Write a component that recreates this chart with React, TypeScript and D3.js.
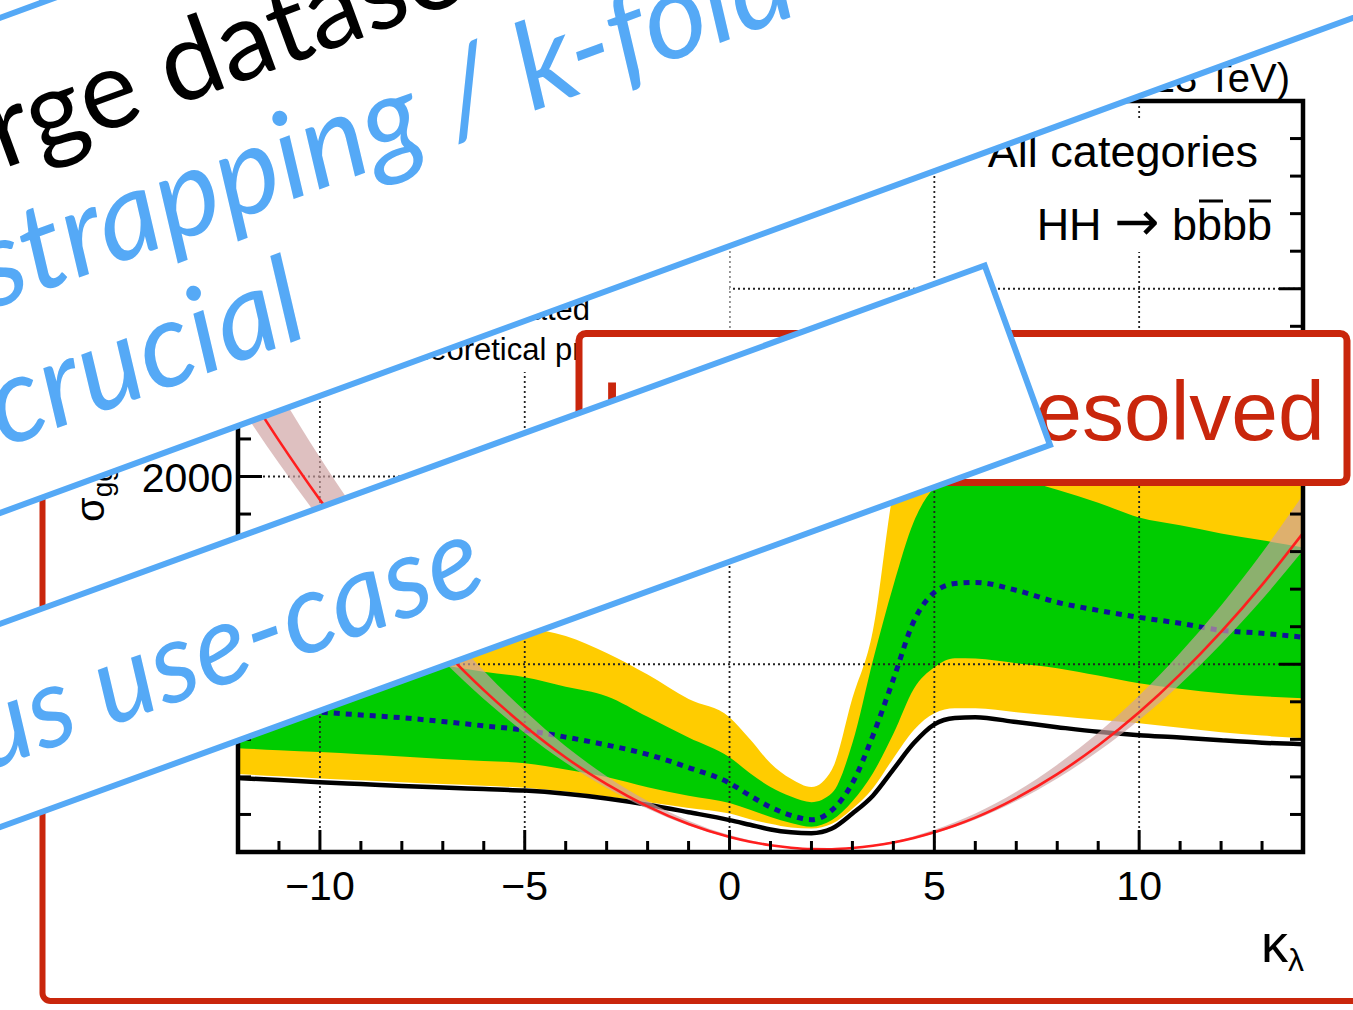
import React from 'react';
import * as d3 from 'd3';

// kappa_lambda sampling points
const kappa = [-12, -11, -10, -9, -8, -7, -6, -5, -4, -3, -2, -1, 0, 0.5, 1, 1.5, 2, 2.5, 3, 3.5, 4, 4.5, 5, 5.5, 6, 7, 8, 9, 10, 11, 12, 13, 14];
// observed 95% CL limit [fb]
const observed = [394, 383, 372, 362, 352, 343, 335, 327, 310, 285, 252, 212, 170, 145, 120, 105, 100, 125, 205, 300, 440, 580, 680, 714, 718, 692, 665, 640, 622, 610, 595, 582, 574];
// expected limit [fb]
const expected = [775, 760, 745, 730, 715, 695, 672, 649, 612, 570, 520, 450, 367, 300, 239, 195, 172, 223, 367, 620, 920, 1230, 1383, 1430, 1436, 1394, 1330, 1287, 1250, 1218, 1181, 1165, 1144];
// +-1 sigma band
const sigma1Low = [553, 542, 532, 520, 508, 495, 485, 473, 440, 400, 345, 300, 261, 225, 186, 155, 135, 170, 270, 420, 630, 870, 984, 1032, 1030, 1005, 979, 940, 899, 870, 846, 830, 819];
const sigma1High = [1250, 1180, 1120, 1070, 1030, 995, 960, 931, 880, 830, 720, 610, 505, 420, 346, 295, 265, 314, 580, 1020, 1420, 1760, 1941, 2000, 2010, 1990, 1930, 1860, 1782, 1740, 1697, 1660, 1622];
// +-2 sigma band
const sigma2Low = [415, 403, 392, 382, 372, 362, 353, 342, 322, 295, 265, 235, 205, 175, 150, 130, 125, 150, 230, 340, 500, 650, 739, 766, 765, 745, 725, 705, 686, 662, 638, 620, 606];
const sigma2High = [1600, 1500, 1420, 1360, 1310, 1260, 1225, 1197, 1150, 1060, 945, 815, 718, 600, 473, 390, 346, 440, 820, 1180, 1925, 2300, 2500, 2560, 2580, 2560, 2500, 2450, 2400, 2350, 2300, 2250, 2200];
// theoretical prediction and its uncertainty band
const theory = [2530, 2191, 1876, 1586, 1320, 1079, 862, 671, 503, 361, 243, 149, 80, 55, 36, 23, 16, 15, 21, 33, 51, 75, 105, 141, 183, 287, 415, 567, 744, 946, 1172, 1423, 1699];
const theoryUp = [2834, 2454, 2101, 1776, 1478, 1208, 965, 752, 563, 404, 272, 167, 90, 62, 40, 26, 18, 17, 24, 37, 57, 84, 118, 158, 205, 321, 465, 635, 833, 1060, 1313, 1594, 1903];
const theoryDown = [2391, 2070, 1773, 1499, 1247, 1020, 815, 634, 475, 341, 230, 141, 76, 52, 34, 22, 15, 14, 20, 31, 48, 71, 99, 133, 173, 271, 392, 536, 703, 894, 1108, 1345, 1606];

const xMajor = [-10, -5, 0, 5, 10];
const xTickLabels = ['\u221210', '\u22125', '0', '5', '10'];
const yMajor = [1000, 2000, 3000];
const yTickLabels = ['1000', '2000', '3000'];
const legendLabels = ['Observed', 'Expected', 'Expected \u00b1 1\u03c3', 'Expected \u00b1 2\u03c3'];

const BLUE = '#55A9F6';
const SLIDE_RED = '#C9260C';
const ROOT_FONT = "'Liberation Sans', Arial, Helvetica, sans-serif";
const SLIDE_FONT = "Lato, 'Open Sans', sans-serif";

export default function App() {
  const x = d3.scaleLinear().domain([-12, 14]).range([238, 1303]);
  const y = d3.scaleLinear().domain([0, 4000]).range([852, 101]);
  const idx = d3.range(kappa.length);
  const area = (lo: number[], hi: number[]) =>
    d3.area<number>().x(i => x(kappa[i])).y0(i => y(lo[i])).y1(i => y(hi[i])).curve(d3.curveMonotoneX)(idx) || '';
  const line = (v: number[]) =>
    d3.line<number>().x(i => x(kappa[i])).y(i => y(v[i])).curve(d3.curveMonotoneX)(idx) || '';
  const [xl, xr] = x.range();
  const [yb, yt] = y.range();
  const xMinor = x.ticks(26);
  const yMinor = y.ticks(20).filter(v => v > 0 && v < 4000);

  return (
    <div style={{ position: 'absolute', left: 0, top: 0, width: 1353, height: 1010, overflow: 'hidden', background: '#fff' }}>
      <svg width={1353} height={1010} viewBox="0 0 1353 1010" style={{ display: 'block' }}>
        <defs>
          <clipPath id="plotClip">
            <rect x={xl} y={yt} width={xr - xl} height={yb - yt} />
          </clipPath>
        </defs>
        <rect x={0} y={0} width={1353} height={1010} fill="#fff" />

        {/* ---------- chart ---------- */}
        <g clipPath="url(#plotClip)">
          <path d={area(sigma2Low, sigma2High)} fill="#FFCC00" />
          <path d={area(sigma1Low, sigma1High)} fill="#00CC00" />
          {xMajor.map(t => (
            <line key={'gx' + t} x1={x(t)} x2={x(t)} y1={yt} y2={yb} stroke="#222" strokeWidth={1.8} strokeDasharray="2 3" />
          ))}
          {yMajor.map(t => (
            <line key={'gy' + t} x1={xl} x2={xr} y1={y(t)} y2={y(t)} stroke="#222" strokeWidth={1.8} strokeDasharray="2 3" />
          ))}
          <path d={line(observed)} fill="none" stroke="#000" strokeWidth={4.5} />
          <path d={line(expected)} fill="none" stroke="#12129A" strokeWidth={5} strokeDasharray="6 6" />
          <path d={area(theoryDown, theoryUp)} fill="rgb(206,162,162)" fillOpacity={0.68} />
          <path d={line(theory)} fill="none" stroke="#FF1E1E" strokeWidth={2.6} />
        </g>

        {/* ticks */}
        {xMinor.map(t => {
          const len = xMajor.includes(t) ? 22 : 11;
          return <line key={'tx' + t} x1={x(t)} x2={x(t)} y1={yb} y2={yb - len} stroke="#000" strokeWidth={3} />;
        })}
        {yMinor.map(t => {
          const len = yMajor.includes(t) ? 24 : 13;
          return (
            <g key={'ty' + t}>
              <line x1={xl} x2={xl + len} y1={y(t)} y2={y(t)} stroke="#000" strokeWidth={3} />
              <line x1={xr} x2={xr - len} y1={y(t)} y2={y(t)} stroke="#000" strokeWidth={3} />
            </g>
          );
        })}
        <rect x={xl} y={yt} width={xr - xl} height={yb - yt} fill="none" stroke="#000" strokeWidth={4.5} />

        {/* tick labels */}
        {xMajor.map((t, i) => (
          <text key={'lx' + t} x={x(t)} y={900} textAnchor="middle" fontFamily={ROOT_FONT} fontSize={41} fill="#000">{xTickLabels[i]}</text>
        ))}
        {yMajor.map((t, i) => (
          <text key={'ly' + t} x={233} y={y(t) + 15} textAnchor="end" fontFamily={ROOT_FONT} fontSize={41} fill="#000">{yTickLabels[i]}</text>
        ))}

        {/* axis titles */}
        <text x={1304} y={962} textAnchor="end" fontFamily={ROOT_FONT} fontSize={54} fill="#000">
          κ<tspan fontSize={32} dy={9}>λ</tspan>
        </text>
        <text transform="translate(104,522) rotate(-90)" fontFamily={ROOT_FONT} fontSize={40} fill="#000">
          σ<tspan fontSize={28} dy={8}>ggF</tspan><tspan dy={-8} fontSize={40}>(pp → HH) [fb]</tspan>
        </text>

        {/* top label */}
        <text x={1290} y={92} textAnchor="end" fontFamily={ROOT_FONT} fontSize={40} fill="#000">27.5 fb⁻¹ (√s = 13 TeV)</text>

        {/* legend box (mostly hidden) */}
        <rect x={285} y={105} width={444.5} height={267} fill="#fff" />
        {legendLabels.map((lab, i) => (
          <text key={lab} x={393} y={160 + i * 40} fontFamily={ROOT_FONT} fontSize={31} fill="#000">{lab}</text>
        ))}
        <text x={590} y={320} textAnchor="end" fontFamily={ROOT_FONT} fontSize={31} fill="#000">Expected, interpolated</text>
        <rect x={300} y={340} width={70} height={18} fill="rgb(206,162,162)" fillOpacity={0.68} />
        <line x1={300} x2={370} y1={349} y2={349} stroke="#FF1E1E" strokeWidth={2.6} />
        <text x={393} y={360} fontFamily={ROOT_FONT} fontSize={31} fill="#000">Theoretical prediction</text>

        {/* category text box */}
        <rect x={975} y={118} width={309} height={134} fill="#fff" />
        <text x={1258} y={167} textAnchor="end" fontFamily={ROOT_FONT} fontSize={45} fill="#000">All categories</text>
        <text x={1272} y={240} textAnchor="end" fontFamily={ROOT_FONT} fontSize={45} fill="#000">
          HH <tspan fontFamily="'DejaVu Sans', sans-serif" fontSize={54}>→</tspan> bbbb
        </text>
        <line x1={1199} x2={1223} y1={201} y2={201} stroke="#000" strokeWidth={3} />
        <line x1={1249} x2={1271} y1={201} y2={201} stroke="#000" strokeWidth={3} />

        {/* ---------- slide overlays ---------- */}
        <rect x={42.5} y={-40} width={1400} height={1041} rx={8} fill="none" stroke={SLIDE_RED} strokeWidth={6} />

        <rect x={579} y={333.5} width={768} height={149} rx={7} fill="#fff" stroke={SLIDE_RED} strokeWidth={7} />
        <text x={963} y={440} textAnchor="middle" fontFamily={ROOT_FONT} fontSize={84} fill={SLIDE_RED}>Low-mass resolved</text>

        <g transform="translate(1050,445) rotate(-20)">
          <rect x={-1400} y={-191} width={1400} height={191} fill="#fff" stroke={BLUE} strokeWidth={6} />
          <text x={-575} y={-57} textAnchor="end" fontFamily={SLIDE_FONT} fontStyle="italic" fontSize={113} fill={BLUE}>Famous use-case</text>
        </g>

        <g transform="translate(0,513) rotate(-20.1)">
          <rect x={-300} y={-465} width={2000} height={465} fill="#fff" stroke={BLUE} strokeWidth={6} />
          <text x={10} y={-322} fontFamily={SLIDE_FONT} fontSize={110} fill="#000">Large dataset</text>
          <text x={-179} y={-194} fontFamily={SLIDE_FONT} fontStyle="italic" fontSize={121} fill={BLUE}>Bootstrapping / k-fold cross-validation</text>
          <text x={25} y={-60} fontFamily={SLIDE_FONT} fontStyle="italic" fontSize={120} fill={BLUE}>crucial</text>
        </g>
      </svg>
    </div>
  );
}
